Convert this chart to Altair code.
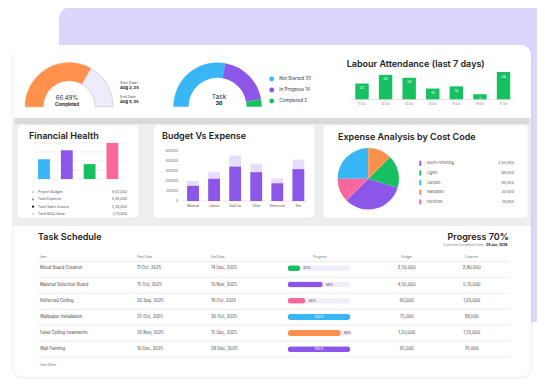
import math
import altair as alt
import pandas as pd

# ---------------- data ----------------
gauge_parts = ["Completed", "Remaining"]
gauge_values = [66.49, 33.51]
gauge_label = "66.49%"
start_date = "Aug 3, 25"
end_date = "Aug 9, 25"

task_status = ["Not Started", "In Progress", "Completed"]
task_counts = [20, 14, 2]
task_total = "36"

labour_days = ["11 Oct", "12 Oct", "13 Oct", "14 Oct", "15 Oct", "16 Oct", "17 Oct"]
labour_counts = [22, 34, 30, 15, 18, 7, 38]

fin_labels = ["Project Budget", "Total Expense", "Total Sales Invoice", "Total BOQ Value"]
fin_amounts = ["6,52,000", "5,40,000", "2,50,000", "3,75,000"]
fin_bars = [2.2, 3.2, 1.65, 4.0]      # bar heights as drawn, in grid steps
fin_grid = [0, 1, 2, 3, 4]

budget_cats = ["Material", "Labour", "SubCon", "Other", "Debit note", "Site"]
budget_vals = [200000, 290000, 450000, 370000, 225000, 410000]
expense_vals = [150000, 220000, 340000, 285000, 175000, 315000]
budget_ticks = [0, 100000, 200000, 300000, 400000, 500000]

cost_codes = ["Doors Finishing", "Lights", "Carpets", "Wallpaper", "Furniture"]
cost_amounts = ["2,50,000", "86,000", "90,000", "30,000", "26,000"]
cost_slices = [118, 62, 90, 45, 45]    # slice sizes as drawn
cost_order = [3, 2, 5, 1, 4]           # clockwise from 12 o'clock

task_items = ["Mood Board Creation", "Material Selection Board", "Reflected Ceiling",
              "Wallpaper Installation", "False Ceiling treatments", "Wall Painting"]
task_start = ["11 Oct, 2025", "15 Oct, 2025", "20 Sep, 2025", "25 Oct, 2025", "26 Nov, 2025", "10 Dec, 2025"]
task_end = ["14 Dec, 2025", "10 Nov, 2025", "19 Oct, 2025", "30 Oct, 2025", "15 Dec, 2025", "28 Dec, 2025"]
task_progress = [20, 56, 28, 100, 85, 100]
task_budget = ["2,50,000", "4,50,000", "90,000", "75,000", "1,20,000", "65,000"]
task_expense = ["2,80,000", "5,70,000", "1,20,000", "99,000", "1,55,000", "76,000"]
overall_progress = "Progress 70%"
completion_date = "05 Jan, 2026"

# ---------------- style ----------------
FONT = "Inter"
PURPLE = "#8C57E8"
BLUE = "#38B6F6"
GREEN = "#17C161"
ORANGE = "#FF914D"
PINK = "#F8689E"
LAV = "#DDD6FC"
LIGHT = "#E6DDFA"
TXT = "#222222"
SUB = "#555555"
TITLE = 9


def P(v):
    return v - 8


one = pd.DataFrame({"k": [0]})


def box(x0, y0, x1, y1, fill, r=0, **kw):
    return alt.Chart(one).mark_rect(fill=fill, cornerRadius=r, **kw).encode(
        x=alt.value(P(x0)), x2=alt.value(P(x1)), y=alt.value(P(y0)), y2=alt.value(P(y1)))


def hline(x0, x1, y, color="#E4E4E4", w=0.6):
    return alt.Chart(one).mark_rule(color=color, strokeWidth=w).encode(
        x=alt.value(P(x0)), x2=alt.value(P(x1)), y=alt.value(P(y)))


def label(text, x, y, size, weight="normal", color=TXT, align="left", baseline="middle"):
    return alt.Chart(one).mark_text(text=text, font=FONT, fontSize=size, fontWeight=weight,
                                    color=color, align=align, baseline=baseline).encode(
        x=alt.value(P(x)), y=alt.value(P(y)))


def band(domain, a, b, pi):
    return alt.Scale(type="band", domain=domain, range=[P(a), P(b)],
                     paddingInner=pi, paddingOuter=pi / 2)


def centers(domain, a, b):
    step = (b - a) / len(domain)
    return alt.Scale(type="point", domain=domain, range=[P(a + step / 2), P(b - step / 2)], padding=0)


def pt(domain, a, b):
    return alt.Scale(type="point", domain=domain, range=[P(a), P(b)], padding=0)


def lin(domain, a, b):
    return alt.Scale(type="linear", domain=domain, range=[P(a), P(b)], nice=False, zero=False)


L = []

# ---------------- backgrounds ----------------
L.append(box(59, 7, 570, 322, LAV, 12))
L.append(box(12, 45, 532, 379, "#000000", 11, opacity=0.05))
L.append(box(13, 45, 531, 377, "#FFFFFF", 10))
L.append(box(13, 118, 531, 226, "#EEEEEE"))
L.append(box(15, 118, 529, 124, "#D9D9D9"))
for (x0, x1) in [(17, 139), (153, 315), (323, 528)]:
    L.append(box(x0, 125, x1, 218, "#FFFFFF", 4, stroke="#E2E2E2", strokeWidth=0.5))

# ---------------- gauge ----------------
gdf = pd.DataFrame({"part": gauge_parts, "v": gauge_values, "o": [0, 1]})
L.append(alt.Chart(gdf).mark_arc(radius=44, radius2=26, strokeWidth=0.7).encode(
    theta=alt.Theta("v:Q", stack=True, scale=alt.Scale(range=[-math.pi / 2, math.pi / 2])),
    order=alt.Order("o:Q"),
    color=alt.Color("part:N", scale=alt.Scale(domain=gauge_parts, range=[ORANGE, "#EFEBFB"]), legend=None),
    stroke=alt.Stroke("part:N", scale=alt.Scale(domain=gauge_parts, range=[ORANGE, "#C8C8C8"]), legend=None),
    x=alt.value(P(69.2)), y=alt.value(P(106.7))))
L.append(label(gauge_label, 67, 98.3, 6.0, color="#333", align="center"))
L.append(label("Completed", 67, 104.8, 4.5, weight="bold", align="center"))
L.append(label("Start Date:", 120, 82.7, 3.6, color=SUB))
L.append(label(start_date, 120, 87.5, 4.0, weight="bold"))
L.append(label("End Date:", 120, 97.3, 3.6, color=SUB))
L.append(label(end_date, 120, 102.3, 4.0, weight="bold"))

# ---------------- task donut ----------------
tdf0 = pd.DataFrame({"s": task_status, "n": task_counts, "o": [0, 1, 2]})
tcol = alt.Scale(domain=task_status, range=[BLUE, PURPLE, GREEN])
L.append(alt.Chart(tdf0).mark_arc(radius=44.2, radius2=29).encode(
    theta=alt.Theta("n:Q", stack=True, scale=alt.Scale(range=[-math.pi / 2, math.pi / 2])),
    order=alt.Order("o:Q"),
    color=alt.Color("s:N", scale=tcol, legend=None),
    x=alt.value(P(217.5)), y=alt.value(P(106.7))))
L.append(label("Task", 219, 97.3, 6.6, color="#333", align="center"))
L.append(label(task_total, 219, 103.4, 5.4, weight="bold", align="center"))
tly = pt(task_status, 79, 101)
L.append(alt.Chart(tdf0).mark_circle(size=24, opacity=1).encode(
    x=alt.value(P(271.7)), y=alt.Y("s:N", scale=tly, axis=None),
    color=alt.Color("s:N", scale=tcol, legend=None)))
L.append(alt.Chart(tdf0).transform_calculate(t="datum.s + ' ' + datum.n").mark_text(
    font=FONT, fontSize=4.6, color="#333", align="left", baseline="middle").encode(
    x=alt.value(P(279.3)), y=alt.Y("s:N", scale=tly, axis=None), text="t:N"))

# ---------------- labour attendance ----------------
L.append(label("Labour Attendance (last 7 days)", 346.7, 64.3, TITLE, weight=600))
ldf = pd.DataFrame({"d": labour_days, "c": labour_counts})
lx = band(labour_days, 350.2, 515.3, 0.43)
lxc = centers(labour_days, 350.2, 515.3)
ly = lin([0, 38], 99.3, 72)
L.append(hline(351, 513, 99.5, "#D6D6D6", 0.6))
L.append(alt.Chart(ldf).mark_bar(color=GREEN).encode(
    x=alt.X("d:N", scale=lx, axis=None), y=alt.Y("c:Q", scale=ly, axis=None)))
L.append(alt.Chart(ldf).mark_text(font=FONT, fontSize=3.6, color="white", dy=4.5, baseline="middle").encode(
    x=alt.X("d:N", scale=lxc, axis=None), y=alt.Y("c:Q", scale=ly, axis=None), text="c:Q"))
L.append(alt.Chart(ldf).mark_text(font=FONT, fontSize=2.8, color="#777", baseline="middle").encode(
    x=alt.X("d:N", scale=lxc, axis=None), y=alt.value(P(103.6)), text="d:N"))

# ---------------- financial health ----------------
L.append(label("Financial Health", 29, 135.5, TITLE, weight=600))
gdf2 = pd.DataFrame({"g": fin_grid})
fy = lin([0, 4], 179, 143)
L.append(alt.Chart(gdf2).mark_rule(color="#E6E6E6", strokeWidth=0.6).encode(
    y=alt.Y("g:Q", scale=fy, axis=None), x=alt.value(P(34)), x2=alt.value(P(126))))
fdf = pd.DataFrame({"f": fin_labels, "h": fin_bars, "amt": fin_amounts})
L.append(alt.Chart(fdf).mark_bar().encode(
    x=alt.X("f:N", scale=band(fin_labels, 32.6, 123.8, 0.48), axis=None),
    y=alt.Y("h:Q", scale=fy, axis=None),
    color=alt.Color("f:N", scale=alt.Scale(domain=fin_labels, range=[BLUE, PURPLE, GREEN, PINK]), legend=None)))
fly = pt(fin_labels, 192, 214)
L.append(alt.Chart(fdf).mark_circle(size=5, opacity=1).encode(
    x=alt.value(P(33)), y=alt.Y("f:N", scale=fly, axis=None),
    color=alt.Color("f:N", scale=alt.Scale(domain=fin_labels, range=["#C6BAF2", "#9A90C8", "#1E1E1E", "#F5C3DA"]), legend=None)))
L.append(alt.Chart(fdf).mark_text(font=FONT, fontSize=3.5, color=SUB, align="left", baseline="middle").encode(
    x=alt.value(P(38)), y=alt.Y("f:N", scale=fly, axis=None), text="f:N"))
L.append(alt.Chart(fdf).mark_text(font=FONT, fontSize=3.5, color=SUB, align="right", baseline="middle").encode(
    x=alt.value(P(127)), y=alt.Y("f:N", scale=fly, axis=None), text="amt:N"))

# ---------------- budget vs expense ----------------
L.append(label("Budget Vs Expense", 162, 135.5, TITLE, weight=600))
by = lin([0, 500000], 201, 150.5)
tk = pd.DataFrame({"t": budget_ticks})
L.append(alt.Chart(tk).mark_text(font=FONT, fontSize=3.3, color="#666", align="right", baseline="middle").encode(
    x=alt.value(P(178)), y=alt.Y("t:Q", scale=by, axis=None), text="t:Q"))
bdf = pd.DataFrame({"c": budget_cats, "b": budget_vals, "e": expense_vals})
bx = band(budget_cats, 182.5, 308.9, 0.44)
L.append(hline(183, 307, 201, "#D6D6D6", 0.6))
L.append(alt.Chart(bdf).mark_bar(color=LIGHT).encode(
    x=alt.X("c:N", scale=bx, axis=None), y=alt.Y("b:Q", scale=by, axis=None)))
L.append(alt.Chart(bdf).mark_bar(color=PURPLE).encode(
    x=alt.X("c:N", scale=bx, axis=None), y=alt.Y("e:Q", scale=by, axis=None)))
L.append(alt.Chart(bdf).mark_text(font=FONT, fontSize=3.2, color="#555", baseline="middle").encode(
    x=alt.X("c:N", scale=centers(budget_cats, 182.5, 308.9), axis=None), y=alt.value(P(205.5)), text="c:N"))

# ---------------- expense analysis ----------------
L.append(label("Expense Analysis by Cost Code", 338, 136.5, TITLE, weight=600))
cdf = pd.DataFrame({"code": cost_codes, "share": cost_slices, "ord": cost_order, "amt": cost_amounts})
ccol = alt.Scale(domain=cost_codes, range=[PURPLE, GREEN, BLUE, ORANGE, PINK])
L.append(alt.Chart(cdf).mark_arc(radius=30.7).encode(
    theta=alt.Theta("share:Q", stack=True), order=alt.Order("ord:Q"),
    color=alt.Color("code:N", scale=ccol, legend=None),
    x=alt.value(P(368.3)), y=alt.value(P(178.8))))
L.append(alt.Chart(cdf).mark_rect().encode(
    x=alt.value(P(419.3)), x2=alt.value(P(421.3)),
    y=alt.Y("code:N", scale=band(cost_codes, 158.5, 206.8, 0.48), axis=None),
    color=alt.Color("code:N", scale=ccol, legend=None)))
cy = centers(cost_codes, 158.5, 206.8)
L.append(alt.Chart(cdf).mark_text(font=FONT, fontSize=3.7, color=SUB, align="left", baseline="middle").encode(
    x=alt.value(P(426.7)), y=alt.Y("code:N", scale=cy, axis=None), text="code:N"))
L.append(alt.Chart(cdf).mark_text(font=FONT, fontSize=3.7, color=SUB, align="right", baseline="middle").encode(
    x=alt.value(P(514)), y=alt.Y("code:N", scale=cy, axis=None), text="amt:N"))

# ---------------- task schedule ----------------
L.append(label("Task Schedule", 38, 237.3, TITLE, weight=600))
L.append(label(overall_progress, 508.7, 237.3, TITLE, weight=600, align="right"))
L.append(label("Expected Completion Date :", 485.5, 245.3, 3.2, color="#888", align="right"))
L.append(label(completion_date, 507.5, 245.3, 3.3, weight="bold", align="right"))
for (t, x, a) in [("Item", 40, "left"), ("Start Date", 137, "left"), ("End Date", 211, "left"),
                  ("Progress", 320, "center"), ("Budget", 406.7, "center"), ("Expense", 471.7, "center")]:
    L.append(label(t, x, 257.3, 3.2, color="#777", align=a))
L.append(hline(37, 509, 261.7, "#DDDDDD", 0.6))

tdf = pd.DataFrame({"item": task_items, "start": task_start, "end": task_end, "pct": task_progress,
                    "bud": task_budget, "exp": task_expense})
rows = pt(task_items, 268.3, 349.3)
L.append(alt.Chart(tdf).mark_rule(color="#DDDDDD", strokeWidth=0.6).encode(
    y=alt.Y("item:N", scale=pt(task_items, 277.2, 357), axis=None), x=alt.value(P(37)), x2=alt.value(P(509))))
for (fld, x, a) in [("item", 40, "left"), ("start", 137, "left"), ("end", 211, "left"),
                    ("bud", 406.7, "center"), ("exp", 471.7, "center")]:
    L.append(alt.Chart(tdf).mark_text(font=FONT, fontSize=4.2, color="#444", align=a, baseline="middle").encode(
        x=alt.value(P(x)), y=alt.Y("item:N", scale=rows, axis=None), text=f"{fld}:N"))

px = lin([0, 100], 287.7, 350.3)
py = band(task_items, 260.2, 357.4, 0.63)
L.append(alt.Chart(tdf).transform_calculate(full="100").mark_bar(color="#F1EDFC", cornerRadius=3).encode(
    x=alt.X("full:Q", scale=px, axis=None), y=alt.Y("item:N", scale=py, axis=None)))
L.append(alt.Chart(tdf).mark_bar(cornerRadius=3).encode(
    x=alt.X("pct:Q", scale=px, axis=None), y=alt.Y("item:N", scale=py, axis=None),
    color=alt.Color("item:N", scale=alt.Scale(domain=task_items, range=[GREEN, PURPLE, PINK, BLUE, ORANGE, PURPLE]), legend=None)))
L.append(alt.Chart(tdf).transform_filter("datum.pct < 100").transform_calculate(lbl="datum.pct + '%'").mark_text(
    font=FONT, fontSize=3.4, color="#444", align="left", baseline="middle", dx=3).encode(
    x=alt.X("pct:Q", scale=px, axis=None), y=alt.Y("item:N", scale=rows, axis=None), text="lbl:N"))
L.append(alt.Chart(tdf).transform_filter("datum.pct >= 100").transform_calculate(
    lbl="datum.pct + '%'", half="datum.pct / 2").mark_text(
    font=FONT, fontSize=3.4, color="white", align="center", baseline="middle").encode(
    x=alt.X("half:Q", scale=px, axis=None), y=alt.Y("item:N", scale=rows, axis=None), text="lbl:N"))
L.append(label("View More", 40, 365, 3.2, color="#777"))

chart = alt.layer(*L).resolve_scale(
    x="independent", y="independent", color="independent", theta="independent", stroke="independent"
).properties(
    width=529, height=371, autosize=alt.AutoSizeParams(type="none"), padding=0, background="white"
).configure_view(strokeWidth=0)

chart.save("out.html", embed_options={"renderer": "svg", "actions": False})
